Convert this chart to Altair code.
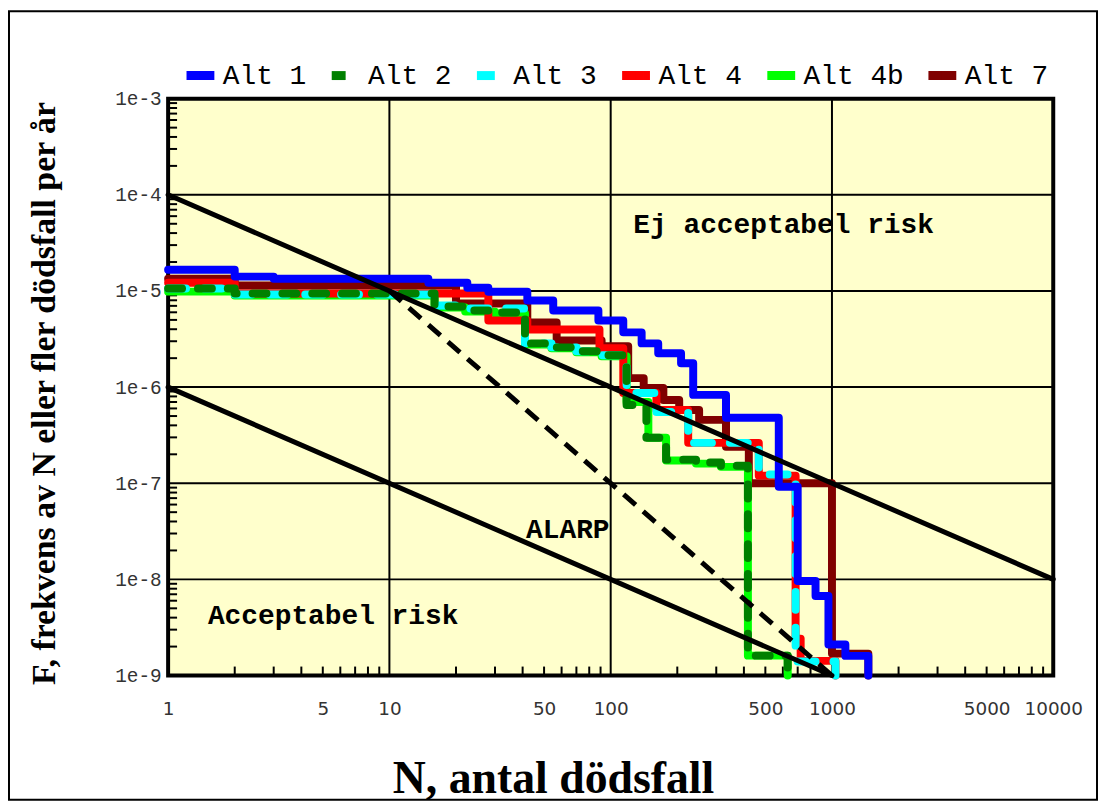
import altair as alt
import pandas as pd

# ---- series definitions ----
series_names = ["Alt 1", "Alt 2", "Alt 3", "Alt 4", "Alt 4b", "Alt 7"]
series_colors = ["#0000FF", "#008000", "#00FFFF", "#FF0000", "#00FF00", "#800000"]
series_dash = [[1, 0], [14, 16], [18, 18], [1, 0], [1, 0], [1, 0]]
draw_order = ["Alt 7", "Alt 4b", "Alt 4", "Alt 3", "Alt 2", "Alt 1"]

# N (number of fatalities) and F (frequency per year), step-after points
alt1_n = [1, 2, 3, 15, 22.5, 28, 42, 55, 88, 114, 138, 164, 208, 236, 332, 575, 700, 843, 964, 1150, 1460]
alt1_f = [1.66e-5, 1.41e-5, 1.34e-5, 1.22e-5, 1.08e-5, 9.8e-6, 7.95e-6, 6.26e-6, 4.93e-6, 3.71e-6,
          2.85e-6, 2.25e-6, 1.77e-6, 8.3e-7, 4.8e-7, 9.2e-8, 9.6e-9, 6.7e-9, 2.1e-9, 1.6e-9, 1e-9]

alt2_n = [1, 2, 16, 22, 30, 41, 54, 70, 91, 118, 145, 178, 243, 315, 417, 631]
alt2_f = [1.06e-5, 9.39e-6, 6.89e-6, 6.26e-6, 5.97e-6, 2.85e-6, 2.59e-6, 2.36e-6, 2.14e-6, 6.51e-7,
          2.97e-7, 1.76e-7, 1.64e-7, 1.52e-7, 1.61e-9, 1e-9]

alt3_n = [1, 2, 16, 21, 41, 54, 70, 91, 118, 161, 224, 467, 685, 1037]
alt3_f = [1.06e-5, 9.17e-6, 7.05e-6, 6.57e-6, 2.85e-6, 2.59e-6, 2.36e-6, 2.14e-6, 8.67e-7, 5.51e-7,
          2.63e-7, 1.23e-7, 1.4e-9, 1e-9]

alt4_n = [1, 2, 28, 42, 89, 114, 161, 224, 467, 685, 722, 1037]
alt4_f = [1.22e-5, 9.4e-6, 4.93e-6, 3.98e-6, 2.53e-6, 8.67e-7, 5.78e-7, 2.63e-7, 1.2e-7, 2.42e-9,
          1.42e-9, 1e-9]

alt4b_n = [1, 2, 16, 22, 30, 41, 54, 70, 91, 118, 148, 178, 243, 315, 417, 631]
alt4b_f = [9.84e-6, 8.95e-6, 6.72e-6, 6.1e-6, 5.83e-6, 2.78e-6, 2.53e-6, 2.3e-6, 2.09e-6, 7.0e-7,
           2.97e-7, 1.72e-7, 1.6e-7, 1.48e-7, 1.61e-9, 1e-9]

alt7_n = [1, 2, 20, 42, 57, 91, 120, 141, 173, 204, 251, 332, 421, 1000, 1460]
alt7_f = [1.34e-5, 1.14e-5, 7.4e-6, 4.7e-6, 3.06e-6, 2.66e-6, 1.24e-6, 9.8e-7, 7.34e-7, 5.78e-7,
          4.56e-7, 2.39e-7, 1.0e-7, 1.69e-9, 1e-9]

# criteria lines
upper_n = [1, 10000]
upper_f = [1e-4, 1e-8]
lower_n = [1, 1000]
lower_f = [1e-6, 1e-9]
alarp_n = [10, 1000]
alarp_f = [1e-5, 1e-9]

# annotations
note_text = ["Ej acceptabel risk", "ALARP", "Acceptabel risk"]
note_n = [605, 64, 5.57]
note_f = [4.85e-5, 3.24e-8, 4.18e-9]

# axes
x_label_values = [1, 5, 10, 50, 100, 500, 1000, 5000, 10000]
y_label_values = [1e-9, 1e-8, 1e-7, 1e-6, 1e-5, 1e-4, 1e-3]
grid_x = [10, 100, 1000]
grid_y = [1e-8, 1e-7, 1e-6, 1e-5, 1e-4]
minor_x = [k * 10 ** e for e in range(0, 4) for k in range(2, 10)]
minor_y = [k * 10.0 ** e for e in range(-9, -3) for k in range(2, 10)]

# ---- build tables ----
series_data = {
    "Alt 1": (alt1_n, alt1_f), "Alt 2": (alt2_n, alt2_f), "Alt 3": (alt3_n, alt3_f),
    "Alt 4": (alt4_n, alt4_f), "Alt 4b": (alt4b_n, alt4b_f), "Alt 7": (alt7_n, alt7_f),
}
rows = []
for name, (ns, fs) in series_data.items():
    for i, (n, f) in enumerate(zip(ns, fs)):
        rows.append({"series": name, "n": n, "f": f, "idx": i})
df = pd.DataFrame(rows)

crit_rows = []
for name, ns, fs in [("upper", upper_n, upper_f), ("lower", lower_n, lower_f), ("alarp", alarp_n, alarp_f)]:
    for n, f in zip(ns, fs):
        crit_rows.append({"line": name, "n": n, "f": f})
crit = pd.DataFrame(crit_rows)

notes = pd.DataFrame({"text": note_text, "n": note_n, "f": note_f})

xscale = alt.Scale(type="log", domain=[1, 10000], nice=False)
yscale = alt.Scale(type="log", domain=[1e-9, 1e-3], nice=False)

xaxis = alt.Axis(values=x_label_values, format="d", grid=False, ticks=False, domain=False,
                 labelFont="DejaVu Sans", labelFontSize=18.5, labelColor="#333333", labelPadding=24,
                 labelFlush=False, labelOverlap=False,
                 title="N, antal dödsfall", titleFont="Liberation Serif", titleFontSize=46,
                 titleFontWeight="bold", titleColor="black", titleX=387, titleY=118,
                 titleAlign="center", titleBaseline="alphabetic")
yaxis = alt.Axis(values=y_label_values, labelExpr="'1e-' + round(-log(datum.value) / LN10)",
                 grid=False, ticks=False, domain=False,
                 labelFont="Liberation Mono", labelFontSize=19.5, labelColor="#333333", labelPadding=7,
                 labelFlush=False, labelOverlap=False,
                 title="F, frekvens av N eller fler dödsfall per år", titleFont="Liberation Serif",
                 titleFontSize=34, titleFontWeight="bold", titleColor="black", titleAngle=270,
                 titleX=-124, titleY=296, titleAlign="center", titleBaseline="middle")

legend = alt.Legend(title=None, orient="none", legendX=14, legendY=-42, direction="horizontal",
                    symbolType="stroke", symbolSize=784, symbolStrokeWidth=9,
                    labelFont="Liberation Mono", labelFontSize=28, labelColor="black",
                    labelOffset=4, columnPadding=6, gridAlign="each")

color_enc = alt.Color("series:N", scale=alt.Scale(domain=series_names, range=series_colors), legend=legend)
dash_enc = alt.StrokeDash("series:N", scale=alt.Scale(domain=series_names, range=series_dash), legend=legend)

layers = []

# grid
layers.append(alt.Chart(pd.DataFrame({"v": grid_x})).mark_rule(color="black", strokeWidth=2).encode(
    x=alt.X("v:Q", scale=xscale, axis=xaxis)))
layers.append(alt.Chart(pd.DataFrame({"v": grid_y})).mark_rule(color="black", strokeWidth=2).encode(
    y=alt.Y("v:Q", scale=yscale, axis=yaxis)))
# minor ticks (inside)
layers.append(alt.Chart(pd.DataFrame({"v": minor_x})).mark_rule(color="black", strokeWidth=2).encode(
    x=alt.X("v:Q", scale=xscale, axis=xaxis), y=alt.value(580), y2=alt.value(571)))
layers.append(alt.Chart(pd.DataFrame({"v": minor_y})).mark_rule(color="black", strokeWidth=2).encode(
    y=alt.Y("v:Q", scale=yscale, axis=yaxis), x=alt.value(0), x2=alt.value(9)))

# series
for s in draw_order:
    layers.append(
        alt.Chart(df).transform_filter(alt.datum.series == s).mark_line(
            interpolate="step-after", strokeWidth=8, strokeCap="round", strokeJoin="round", clip=False
        ).encode(
            x=alt.X("n:Q", scale=xscale, axis=xaxis),
            y=alt.Y("f:Q", scale=yscale, axis=yaxis),
            color=color_enc,
            strokeDash=dash_enc,
            order="idx:Q",
        )
    )

# criteria lines
layers.append(alt.Chart(crit).transform_filter(alt.datum.line != "alarp").mark_line(
    color="black", strokeWidth=5, strokeCap="round").encode(
    x=alt.X("n:Q", scale=xscale, axis=xaxis), y=alt.Y("f:Q", scale=yscale, axis=yaxis),
    detail="line:N"))
layers.append(alt.Chart(crit).transform_filter(alt.datum.line == "alarp").mark_line(
    color="black", strokeWidth=5, strokeDash=[16, 10]).encode(
    x=alt.X("n:Q", scale=xscale, axis=xaxis), y=alt.Y("f:Q", scale=yscale, axis=yaxis)))

# annotations
layers.append(alt.Chart(notes).mark_text(font="Liberation Mono", fontSize=28, fontWeight="bold",
                                          color="black", align="center", baseline="middle").encode(
    x=alt.X("n:Q", scale=xscale, axis=xaxis), y=alt.Y("f:Q", scale=yscale, axis=yaxis), text="text:N"))

# outer frame
layers.append(alt.Chart(pd.DataFrame({"a": [0]})).mark_rect(fill=None, stroke="black", strokeWidth=2,
                                                            clip=False).encode(
    x=alt.value(-160), x2=alt.value(934), y=alt.value(-88), y2=alt.value(705)))

chart = alt.layer(*layers).properties(
    width=890, height=580,
    padding={"left": 161, "top": 89, "right": 45, "bottom": 127},
    autosize=alt.AutoSizeParams(type="none"),
    background="white",
).configure_view(stroke="black", strokeWidth=4, fill="#FFFFCC")

chart.save("out.html", embed_options={"renderer": "svg", "actions": False})
